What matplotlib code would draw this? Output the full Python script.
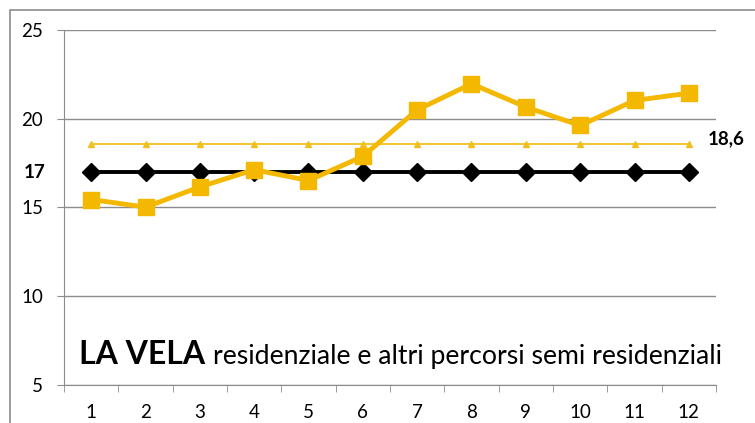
import matplotlib.pyplot as plt
from matplotlib.patches import Rectangle

months = list(range(1, 13))
la_vela = [15.45, 15.02, 16.16, 17.13, 16.52, 17.88, 20.5, 21.97, 20.66, 19.62, 21.03, 21.44]
media_vela = [18.6] * 12
soglia = [17] * 12

yticks = [5, 10, 15, 20, 25]

plt.rcParams['font.family'] = ['Lato', 'DejaVu Sans']

fig = plt.figure(figsize=(7.55, 4.23), dpi=100)
ax = fig.add_axes([64 / 755, 1 - 385 / 423, 652 / 755, 355 / 423])

# outer chart border
fig.patches.append(Rectangle((10 / 755, -0.1), 1.2, 1 - 10 / 423 + 0.1,
                             transform=fig.transFigure, fill=False,
                             edgecolor='#8c8c8c', linewidth=1.2))

ax.plot(months, media_vela, color='#F0C020', linewidth=1.3, marker='^',
        markersize=4, zorder=3)
ax.plot(months, soglia, color='black', linewidth=2.8, marker='D',
        markersize=9, zorder=4)
ax.plot(months, la_vela, color='#F5B800', linewidth=3.5, marker='s',
        markersize=11, zorder=5)

ax.set_xlim(0.5, 12.5)
ax.set_ylim(5, 25)
ax.set_yticks(yticks)
ax.set_yticklabels([str(t) for t in yticks])
ax.set_xticks(months)
ax.set_xticklabels([str(m) for m in months])
ax.set_xticks([m + 0.5 for m in range(0, 13)], minor=True)
ax.tick_params(axis='x', which='major', length=0, labelsize=13.5, pad=14)
ax.tick_params(axis='x', which='minor', length=5, color='#8c8c8c', direction='out')
ax.tick_params(axis='y', length=5, color='#8c8c8c', labelsize=13.5, pad=10)

ax.grid(axis='y', color='#8c8c8c', linewidth=1)
ax.set_axisbelow(True)
for s in ['top', 'right']:
    ax.spines[s].set_visible(False)
for s in ['left', 'bottom']:
    ax.spines[s].set_color('#8c8c8c')

# value labels
ax.text(-0.029, 17, '17', transform=ax.get_yaxis_transform(), ha='right',
        va='center', fontsize=13.5, fontweight='bold')
ax.text(12.35, 18.55, '18,6', ha='left', va='baseline', fontsize=13.5,
        fontweight='bold')

t1 = ax.text(0.77, 6.18, 'LA VELA', fontsize=23, fontweight='bold',
             va='baseline')
ax.annotate('residenziale e altri percorsi semi residenziali',
            xy=(1, 0), xycoords=t1, xytext=(6, 0), textcoords='offset points',
            fontsize=19.2, va='bottom', ha='left')

fig.savefig('out.png', dpi=100)
